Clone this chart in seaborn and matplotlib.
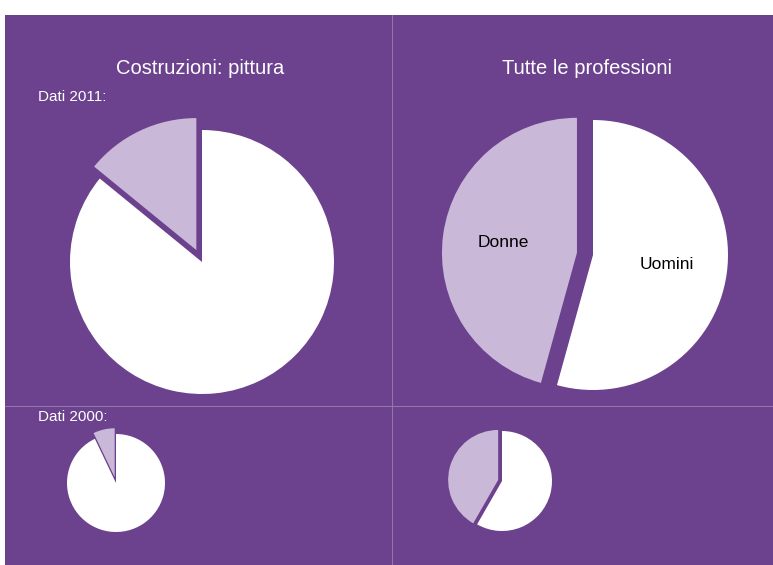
import matplotlib
matplotlib.use("Agg")
import matplotlib.pyplot as plt
import seaborn as sns

sns.set_style("white")
plt.rcParams["font.family"] = ["Liberation Sans", "DejaVu Sans"]

# data (percent), order: women, men
categories = ["Donne", "Uomini"]
pittura_2011 = [14.1, 85.9]
tutte_2011 = [45.7, 54.3]
pittura_2000 = [7.1, 92.9]
tutte_2000 = [41.7, 58.3]

purple = "#6c418d"
colors = ["#c9b8d7", "#ffffff"]

W, H = 773, 565
fig = plt.figure(figsize=(W / 100, H / 100), dpi=100)
fig.patch.set_facecolor("white")

# purple panel background with dividers
bg = fig.add_axes([5 / W, 0, (W - 5) / W, (H - 15) / H])
bg.set_facecolor(purple)
bg.set_xlim(5, W)
bg.set_ylim(H, 15)
bg.set_xticks([])
bg.set_yticks([])
for s in bg.spines.values():
    s.set_visible(False)
bg.axvline(392, color="#9479b0", lw=0.7)
bg.axhline(406, color="#9479b0", lw=0.7)

bg.text(200, 68, "Costruzioni: pittura", color="white", fontsize=14.5, ha="center", va="center")
bg.text(587, 68, "Tutte le professioni", color="white", fontsize=14.5, ha="center", va="center")
bg.text(38, 97, "Dati 2011:", color="white", fontsize=11, ha="left", va="center")
bg.text(38, 417, "Dati 2000:", color="white", fontsize=11, ha="left", va="center")


def pie_axes(cx, cy, r, lim=1.3):
    size = 2 * lim * r
    ax = fig.add_axes([(cx - lim * r) / W, (H - cy - lim * r) / H, size / W, size / H])
    ax.set_xlim(-lim, lim)
    ax.set_ylim(-lim, lim)
    ax.set_aspect("equal")
    ax.axis("off")
    return ax


def draw(ax, values, explode, labels=None):
    ax.pie(values, colors=colors, startangle=90, explode=[explode, 0],
           labels=labels, labeldistance=0.55,
           wedgeprops={"linewidth": 0},
           textprops={"fontsize": 12.5, "color": "black", "ha": "center"})
    ax.set_xlim(-1.3, 1.3)
    ax.set_ylim(-1.3, 1.3)


draw(pie_axes(202, 262, 132), pittura_2011, 0.1)
draw(pie_axes(593, 255, 135), tutte_2011, 0.12, labels=categories)
draw(pie_axes(116, 483, 49), pittura_2000, 0.12)
draw(pie_axes(502, 481, 50), tutte_2000, 0.08)

fig.savefig("out.png", dpi=100, facecolor=fig.get_facecolor())
